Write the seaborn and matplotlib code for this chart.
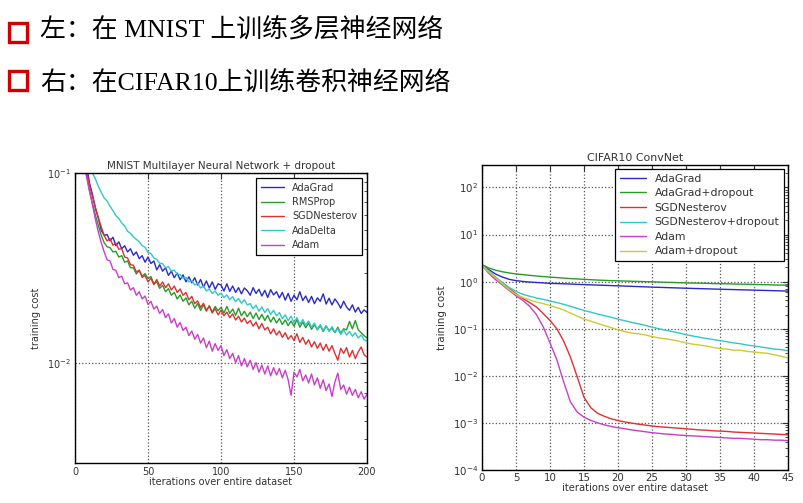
import numpy as np
import pandas as pd
import seaborn as sns
import matplotlib
matplotlib.use("Agg")
import matplotlib.pyplot as plt
from matplotlib.patches import Rectangle
from matplotlib.ticker import NullFormatter, FixedLocator, LogFormatterSciNotation

# ---------------- data ----------------
header_lines = ["左：在 MNIST 上训练多层神经网络", "右：在CIFAR10上训练卷积神经网络"]

mnist_title = "MNIST Multilayer Neural Network + dropout"
cifar_title = "CIFAR10 ConvNet"
x_label = "iterations over entire dataset"
y_label = "training cost"

mnist_xticks = [0, 50, 100, 150, 200]
mnist_yticks = [0.01, 0.1]
cifar_xticks = [0, 5, 10, 15, 20, 25, 30, 35, 40, 45]
cifar_yticks = [1e-4, 1e-3, 1e-2, 1e-1, 1e0, 1e1, 1e2]

mnist_methods = ["AdaGrad", "RMSProp", "SGDNesterov", "AdaDelta", "Adam"]
mnist_iters = list(range(0, 201, 2))

mnist_adagrad = [
    0.30, 0.21, 0.16, 0.13, 0.108, 0.088, 0.077, 0.065, 0.058, 0.050,
    0.047, 0.0475, 0.044, 0.046, 0.0415, 0.0435, 0.040, 0.0415, 0.0385, 0.040,
    0.037, 0.0385, 0.0355, 0.0368, 0.034, 0.0362, 0.0335, 0.0345, 0.031, 0.033,
    0.0305, 0.0318, 0.029, 0.0305, 0.0282, 0.0298, 0.0275, 0.0292, 0.0268, 0.0285,
    0.0265, 0.0282, 0.0258, 0.0276, 0.0252, 0.0271, 0.0249, 0.0268, 0.0245, 0.0262,
    0.0258, 0.0240, 0.0262, 0.0239, 0.0255, 0.0236, 0.0250, 0.0232, 0.0249, 0.0241,
    0.0228, 0.0250, 0.0233, 0.0245, 0.0226, 0.0242, 0.0222, 0.0244, 0.0229, 0.0238,
    0.0221, 0.0236, 0.0215, 0.0233, 0.0212, 0.0228, 0.0216, 0.0238, 0.0214, 0.0226,
    0.0209, 0.0225, 0.0206, 0.0221, 0.0212, 0.0232, 0.0205, 0.0220, 0.0203, 0.0218,
    0.0208, 0.0195, 0.0212, 0.0198, 0.0190, 0.0203, 0.0186, 0.0197, 0.0183, 0.0191,
    0.0185]
mnist_rmsprop = [
    0.28, 0.19, 0.145, 0.118, 0.098, 0.080, 0.069, 0.060, 0.053, 0.047,
    0.043, 0.041, 0.0405, 0.0385, 0.0388, 0.0362, 0.0368, 0.0340, 0.0345, 0.0318,
    0.0318, 0.0295, 0.0308, 0.0288, 0.0296, 0.0279, 0.0286, 0.0262, 0.0268, 0.0248,
    0.0257, 0.0238, 0.0247, 0.0228, 0.0236, 0.0218, 0.0229, 0.0212, 0.0221, 0.0203,
    0.0212, 0.0195, 0.0206, 0.0190, 0.0203, 0.0188, 0.0201, 0.0186, 0.0199, 0.0189,
    0.0197, 0.0184, 0.0199, 0.0183, 0.0193, 0.0179, 0.0195, 0.0178, 0.0188, 0.0176,
    0.0186, 0.0172, 0.0184, 0.0170, 0.0181, 0.0168, 0.0179, 0.0165, 0.0175, 0.0163,
    0.0172, 0.0160, 0.0169, 0.0158, 0.0167, 0.0157, 0.0170, 0.0155, 0.0165, 0.0154,
    0.0163, 0.0151, 0.0160, 0.0150, 0.0158, 0.0147, 0.0157, 0.0149, 0.0153, 0.0145,
    0.0155, 0.0144, 0.0152, 0.0150, 0.0166, 0.0152, 0.0168, 0.0150, 0.0145, 0.0140,
    0.0136]
mnist_sgdnesterov = [
    0.29, 0.20, 0.15, 0.122, 0.102, 0.086, 0.075, 0.066, 0.058, 0.052,
    0.047, 0.0440, 0.0452, 0.0418, 0.0428, 0.0398, 0.0400, 0.0362, 0.0358, 0.0330,
    0.0328, 0.0302, 0.0309, 0.0283, 0.0290, 0.0268, 0.0280, 0.0259, 0.0276, 0.0255,
    0.0268, 0.0250, 0.0262, 0.0243, 0.0255, 0.0236, 0.0246, 0.0228, 0.0236, 0.0216,
    0.0225, 0.0206, 0.0213, 0.0197, 0.0207, 0.0190, 0.0200, 0.0184, 0.0194, 0.0180,
    0.0190, 0.0178, 0.0186, 0.0174, 0.0182, 0.0169, 0.0177, 0.0165, 0.0173, 0.0162,
    0.0168, 0.0157, 0.0165, 0.0152, 0.0162, 0.0150, 0.0155, 0.0143, 0.0152, 0.0141,
    0.0148, 0.0137, 0.0145, 0.0134, 0.0140, 0.0132, 0.0143, 0.0129, 0.0137, 0.0126,
    0.0133, 0.0122, 0.0130, 0.0120, 0.0128, 0.0117, 0.0126, 0.0116, 0.0124, 0.0113,
    0.0104, 0.0120, 0.0113, 0.0121, 0.0108, 0.0117, 0.0106, 0.0115, 0.0122, 0.0111,
    0.0108]
mnist_adadelta = [
    0.40, 0.28, 0.21, 0.165, 0.135, 0.108, 0.100, 0.093, 0.085, 0.079,
    0.074, 0.0712, 0.0668, 0.0635, 0.0598, 0.0578, 0.0546, 0.0528, 0.0495, 0.0482,
    0.0462, 0.0448, 0.0436, 0.0415, 0.0408, 0.0382, 0.0378, 0.0358, 0.0352, 0.0336,
    0.0334, 0.0318, 0.0322, 0.0306, 0.0309, 0.0294, 0.0293, 0.0280, 0.0283, 0.0268,
    0.0272, 0.0258, 0.0264, 0.0249, 0.0255, 0.0240, 0.0246, 0.0233, 0.0240, 0.0228,
    0.0234, 0.0222, 0.0229, 0.0216, 0.0224, 0.0211, 0.0219, 0.0207, 0.0216, 0.0203,
    0.0206, 0.0194, 0.0202, 0.0188, 0.0198, 0.0185, 0.0194, 0.0181, 0.0190, 0.0178,
    0.0185, 0.0172, 0.0180, 0.0168, 0.0177, 0.0164, 0.0174, 0.0161, 0.0170, 0.0159,
    0.0167, 0.0155, 0.0163, 0.0151, 0.0160, 0.0149, 0.0158, 0.0147, 0.0156, 0.0146,
    0.0152, 0.0142, 0.0150, 0.0141, 0.0147, 0.0139, 0.0145, 0.0136, 0.0141, 0.0133,
    0.0131]
mnist_adam = [
    0.22, 0.16, 0.13, 0.11, 0.095, 0.080, 0.068, 0.057, 0.049, 0.043,
    0.0385, 0.0350, 0.0345, 0.0312, 0.0308, 0.0282, 0.0287, 0.0262, 0.0265, 0.0243,
    0.0250, 0.0228, 0.0238, 0.0218, 0.0226, 0.0204, 0.0212, 0.0193, 0.0200, 0.0183,
    0.0192, 0.0174, 0.0182, 0.0163, 0.0172, 0.0155, 0.0164, 0.0149, 0.0155, 0.0140,
    0.0148, 0.0134, 0.0142, 0.0128, 0.0136, 0.0121, 0.0131, 0.0116, 0.0127, 0.0117,
    0.0124, 0.0110, 0.0118, 0.0106, 0.0113, 0.0101, 0.0110, 0.0097, 0.0106, 0.0096,
    0.0104, 0.0093, 0.0101, 0.0090, 0.0098, 0.0088, 0.0097, 0.0086, 0.0095, 0.0087,
    0.0094, 0.0084, 0.0092, 0.0082, 0.0068, 0.0090, 0.0085, 0.0093, 0.0081, 0.0087,
    0.0079, 0.0088, 0.0077, 0.0084, 0.0074, 0.0082, 0.0072, 0.0078, 0.0067, 0.0080,
    0.0089, 0.0073, 0.0077, 0.0069, 0.0075, 0.0068, 0.0073, 0.0066, 0.0071, 0.0065,
    0.0069]

cifar_methods = ["AdaGrad", "AdaGrad+dropout", "SGDNesterov",
                 "SGDNesterov+dropout", "Adam", "Adam+dropout"]
cifar_iters = list(range(0, 46))

cifar_adagrad = [
    2.2, 1.8, 1.45, 1.25, 1.12, 1.05, 1.01, 0.98, 0.96, 0.94,
    0.92, 0.91, 0.90, 0.89, 0.875, 0.865, 0.855, 0.845, 0.835, 0.825,
    0.815, 0.805, 0.795, 0.785, 0.775, 0.765, 0.757, 0.749, 0.741, 0.733,
    0.725, 0.718, 0.711, 0.704, 0.697, 0.690, 0.684, 0.678, 0.672, 0.666,
    0.660, 0.654, 0.648, 0.642, 0.636, 0.630]
cifar_adagrad_dropout = [
    2.3, 1.95, 1.75, 1.62, 1.53, 1.46, 1.41, 1.36, 1.32, 1.28,
    1.25, 1.22, 1.19, 1.16, 1.14, 1.12, 1.10, 1.08, 1.065, 1.05,
    1.04, 1.03, 1.02, 1.01, 1.00, 0.99, 0.98, 0.97, 0.96, 0.95,
    0.94, 0.935, 0.93, 0.92, 0.91, 0.905, 0.90, 0.89, 0.885, 0.88,
    0.87, 0.865, 0.86, 0.85, 0.845, 0.84]
cifar_sgdnesterov = [
    2.2, 1.6, 1.2, 0.95, 0.72, 0.55, 0.44, 0.36, 0.29, 0.21,
    0.15, 0.10, 0.055, 0.025, 0.0095, 0.0035, 0.0021, 0.0016, 0.00138, 0.00122,
    0.00112, 0.00105, 0.00099, 0.00094, 0.00090, 0.00086, 0.00083, 0.00081, 0.00079, 0.00077,
    0.00075, 0.00073, 0.00071, 0.00070, 0.00068, 0.00067, 0.00066, 0.00064, 0.00063, 0.00062,
    0.00061, 0.00060, 0.00059, 0.00058, 0.00057, 0.00056]
cifar_sgdnesterov_dropout = [
    2.2, 1.7, 1.25, 0.95, 0.75, 0.62, 0.54, 0.49, 0.45, 0.42,
    0.39, 0.36, 0.33, 0.30, 0.27, 0.245, 0.225, 0.205, 0.19, 0.175,
    0.16, 0.148, 0.137, 0.127, 0.118, 0.108, 0.100, 0.093, 0.087, 0.081,
    0.075, 0.070, 0.066, 0.062, 0.059, 0.056, 0.053, 0.050, 0.048, 0.045,
    0.043, 0.041, 0.039, 0.037, 0.036, 0.034]
cifar_adam = [
    2.2, 1.5, 1.1, 0.85, 0.65, 0.50, 0.40, 0.30, 0.20, 0.11,
    0.05, 0.022, 0.0075, 0.0028, 0.0017, 0.00132, 0.00113, 0.00100, 0.00091, 0.00084,
    0.00079, 0.00075, 0.00071, 0.00068, 0.00065, 0.00062, 0.00060, 0.00058, 0.00057, 0.00055,
    0.00054, 0.00053, 0.00052, 0.00051, 0.00050, 0.00049, 0.00048, 0.00047, 0.00047, 0.00046,
    0.00045, 0.00044, 0.00044, 0.00043, 0.00043, 0.00042]
cifar_adam_dropout = [
    2.2, 1.6, 1.2, 0.9, 0.68, 0.53, 0.46, 0.41, 0.37, 0.34,
    0.31, 0.28, 0.25, 0.215, 0.185, 0.16, 0.145, 0.13, 0.117, 0.105,
    0.095, 0.087, 0.081, 0.078, 0.074, 0.068, 0.064, 0.061, 0.058, 0.054,
    0.050, 0.047, 0.045, 0.043, 0.040, 0.038, 0.037, 0.035, 0.035, 0.033,
    0.032, 0.031, 0.030, 0.028, 0.026, 0.024]

mnist_colors = ["#2a2ac8", "#2a9a2a", "#e03030", "#30c8c8", "#c83ec8"]
cifar_colors = ["#2a2ac8", "#2a9a2a", "#e03030", "#30c8c8", "#c83ec8", "#cccc30"]

# ---------------- frames ----------------
mnist_series = [mnist_adagrad, mnist_rmsprop, mnist_sgdnesterov, mnist_adadelta, mnist_adam]
df_mnist = pd.concat([
    pd.DataFrame({"iter": mnist_iters, "cost": s, "method": m})
    for m, s in zip(mnist_methods, mnist_series)], ignore_index=True)

cifar_series = [cifar_adagrad, cifar_adagrad_dropout, cifar_sgdnesterov,
                cifar_sgdnesterov_dropout, cifar_adam, cifar_adam_dropout]
df_cifar = pd.concat([
    pd.DataFrame({"iter": cifar_iters, "cost": s, "method": m})
    for m, s in zip(cifar_methods, cifar_series)], ignore_index=True)


def minor_log_ticks(lo, hi):
    """Minor tick positions (2..9 x decade) strictly inside (lo, hi)."""
    out = []
    for e in range(int(np.floor(np.log10(lo))), int(np.ceil(np.log10(hi))) + 1):
        for m in range(2, 10):
            v = m * 10.0 ** e
            if lo < v < hi:
                out.append(v)
    return out


# ---------------- figure ----------------
sns.set_style("white")
plt.rcParams["font.family"] = ["DejaVu Sans", "Noto Sans CJK SC"]
plt.rcParams["mathtext.fontset"] = "dejavusans"

W, H = 804, 503
fig = plt.figure(figsize=(W / 100, H / 100), dpi=100)
fig.patch.set_facecolor("white")

# header bullets and text
for i, line in enumerate(header_lines):
    ysq = [32, 80][i]
    ytx = [29, 84][i]
    sq = Rectangle((9 / W, 1 - (ysq + 10) / H), 18 / W, 19 / H,
                   transform=fig.transFigure, fill=False,
                   edgecolor="#d00000", linewidth=2.4)
    fig.patches.append(sq)
    fig.text(40 / W, 1 - ytx / H, line, fontsize=18.6, color="black",
             family=["Liberation Serif", "Noto Sans CJK SC"],
             ha="left", va="center")


def style_axes(ax, title, fs):
    ax.set_yscale("log")
    ax.tick_params(axis="both", which="both", direction="in",
                   top=True, right=True, labelsize=fs, colors="#333333",
                   pad=3)
    ax.tick_params(axis="both", which="major", length=4, width=0.8)
    ax.tick_params(axis="both", which="minor", length=2, width=0.6)
    for sp in ax.spines.values():
        sp.set_color("black")
        sp.set_linewidth(1.0)
    ax.grid(True, which="major", linestyle=":", color="#555555", linewidth=0.9)
    ax.set_title(title, fontsize=fs + 0.5, color="#333333", pad=3)
    ax.set_ylabel(y_label, fontsize=fs, color="#333333", labelpad=4)


# left: MNIST
ax1 = fig.add_axes([75 / W, (H - 463) / H, 292 / W, 290 / H])
sns.lineplot(data=df_mnist, x="iter", y="cost", hue="method",
             hue_order=mnist_methods, palette=mnist_colors,
             linewidth=1.0, ax=ax1, legend=False, sort=True)
style_axes(ax1, mnist_title, 7)
ax1.set_xlabel(x_label, fontsize=7, color="#333333", labelpad=0)
ax1.set_xlim(0, 200)
ax1.set_ylim(0.003, 0.1)
ax1.xaxis.set_major_locator(FixedLocator(mnist_xticks))
ax1.yaxis.set_major_locator(FixedLocator(mnist_yticks))
ax1.yaxis.set_major_formatter(LogFormatterSciNotation())
ax1.yaxis.set_minor_locator(FixedLocator(minor_log_ticks(0.003, 0.1)))
ax1.yaxis.set_minor_formatter(NullFormatter())
h1 = [plt.Line2D([], [], color=c, lw=1.0) for c in mnist_colors]
leg1 = ax1.legend(h1, mnist_methods, loc="upper right", fontsize=7,
                  frameon=True, fancybox=False, edgecolor="black",
                  framealpha=1, handlelength=2.4, borderaxespad=0.5,
                  labelspacing=0.45, borderpad=0.5)
leg1.get_frame().set_linewidth(0.9)
for t in leg1.get_texts():
    t.set_color("#333333")

# right: CIFAR10
ax2 = fig.add_axes([482 / W, (H - 470) / H, 306 / W, 305 / H])
sns.lineplot(data=df_cifar, x="iter", y="cost", hue="method",
             hue_order=cifar_methods, palette=cifar_colors,
             linewidth=1.0, ax=ax2, legend=False, sort=True)
style_axes(ax2, cifar_title, 7.4)
ax2.set_xlabel(x_label, fontsize=7.2, color="#333333", labelpad=0)
ax2.set_xlim(0, 45)
ax2.set_ylim(1e-4, 300)
ax2.xaxis.set_major_locator(FixedLocator(cifar_xticks))
ax2.tick_params(axis="x", pad=2)
ax2.yaxis.set_major_locator(FixedLocator(cifar_yticks))
ax2.yaxis.set_major_formatter(LogFormatterSciNotation())
ax2.yaxis.set_minor_locator(FixedLocator(minor_log_ticks(1e-4, 300)))
ax2.yaxis.set_minor_formatter(NullFormatter())
h2 = [plt.Line2D([], [], color=c, lw=1.0) for c in cifar_colors]
leg2 = ax2.legend(h2, cifar_methods, loc="upper right", fontsize=7.8,
                  frameon=True, fancybox=False, edgecolor="black",
                  framealpha=1, handlelength=2.4, borderaxespad=0.35,
                  labelspacing=0.42, borderpad=0.45)
leg2.get_frame().set_linewidth(0.9)
for t in leg2.get_texts():
    t.set_color("#333333")

fig.savefig("out.png", dpi=100, facecolor="white")
